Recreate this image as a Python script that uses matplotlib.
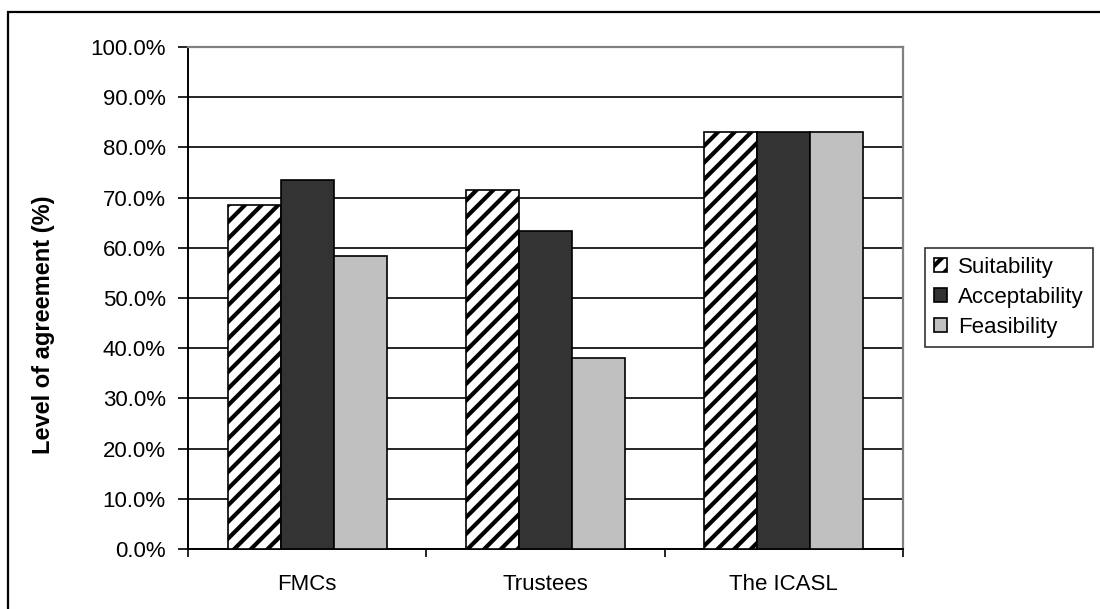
import numpy as np
import matplotlib
matplotlib.use('Agg')
import matplotlib.pyplot as plt
from matplotlib.patches import Rectangle

plt.rcParams['font.family'] = ['Liberation Sans', 'DejaVu Sans']
plt.rcParams['hatch.linewidth'] = 3.0

# data
categories = ['FMCs', 'Trustees', 'The ICASL']
series = ['Suitability', 'Acceptability', 'Feasibility']
suitability = [68.5, 71.5, 83.0]
acceptability = [73.6, 63.3, 83.0]
feasibility = [58.4, 38.0, 83.0]
yticks = np.arange(0, 101, 10)

fig = plt.figure(figsize=(11, 6.09), dpi=100)
ax = fig.add_axes([188 / 1100, 1 - 549 / 609, 715 / 1100, 502 / 609])

# outer frame
fig.patches.append(Rectangle((8 / 1100, -0.05), 1.2, 1 - 12 / 609 + 0.05,
                             transform=fig.transFigure, fill=False,
                             edgecolor='black', linewidth=1.6))

x = np.arange(len(categories))
w = 1 / 4.5
ax.bar(x - w, suitability, w, facecolor='white', edgecolor='black', hatch='//',
       linewidth=1.2, label=series[0], zorder=3)
ax.bar(x, acceptability, w, facecolor='#333333', edgecolor='black',
       linewidth=1.2, label=series[1], zorder=3)
ax.bar(x + w, feasibility, w, facecolor='#c0c0c0', edgecolor='black',
       linewidth=1.2, label=series[2], zorder=3)

ax.set_xlim(-0.5, 2.5)
ax.set_ylim(0, 100)
ax.set_yticks(yticks)
ax.set_yticklabels(['%.1f%%' % v for v in yticks], fontsize=16)
ax.yaxis.grid(True, color='black', linewidth=1.2, zorder=0)
ax.set_axisbelow(True)

ax.set_xticks([-0.5, 0.5, 1.5, 2.5])
ax.set_xticklabels([])
ax.set_xticks(x, minor=True)
ax.set_xticklabels(categories, minor=True, fontsize=16)
ax.tick_params(axis='x', which='minor', length=0, pad=18)
ax.tick_params(axis='x', which='major', length=6, width=1.2, direction='out')
ax.tick_params(axis='y', length=7, width=1.2, direction='out', pad=9)

for s in ['top', 'right']:
    ax.spines[s].set_color('#808080')
    ax.spines[s].set_linewidth(1.6)
for s in ['left', 'bottom']:
    ax.spines[s].set_color('black')
    ax.spines[s].set_linewidth(1.4)

ax.set_ylabel('Level of agreement (%)', fontsize=17, fontweight='bold')
ax.yaxis.set_label_coords(-0.186, 0.446)

leg = ax.legend(loc='upper left', bbox_to_anchor=(925 / 1100, 1 - 248 / 609),
                bbox_transform=fig.transFigure, fontsize=16, frameon=True,
                fancybox=False, edgecolor='black', handlelength=0.6,
                handleheight=0.6, handletextpad=0.5, borderpad=0.4,
                labelspacing=0.4, borderaxespad=0)
leg.get_frame().set_linewidth(1.2)

fig.savefig('out.png', dpi=100)
